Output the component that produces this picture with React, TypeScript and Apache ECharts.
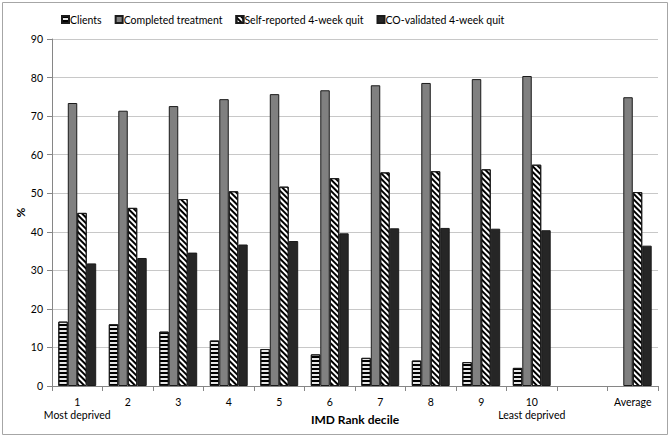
import React, { useEffect, useRef } from "react";
import * as echarts from "echarts";

const categories = ["1\nMost deprived", "2", "3", "4", "5", "6", "7", "8", "9", "10\nLeast deprived", "", "Average"];
const clients = [16.7, 16.0, 14.1, 11.8, 9.6, 8.2, 7.3, 6.6, 6.2, 4.7, null, null];
const completed = [73.4, 71.4, 72.6, 74.4, 75.7, 76.7, 78.0, 78.6, 79.6, 80.4, null, 74.9];
const selfReported = [44.9, 46.2, 48.5, 50.5, 51.7, 53.9, 55.4, 55.7, 56.2, 57.4, null, 50.3];
const coValidated = [31.8, 33.2, 34.6, 36.7, 37.6, 39.6, 40.9, 41.0, 40.8, 40.4, null, 36.4];
const yTicks = { min: 0, max: 90, interval: 10 };

const FONT = "Lato, 'Liberation Sans', sans-serif";

export default function App() {
  const ref = useRef<HTMLDivElement>(null);
  useEffect(() => {
    document.body.style.margin = "0";
    const chart = echarts.init(ref.current!, undefined, { renderer: "svg" });
    const border = { borderColor: "#1a1a1a", borderWidth: 1 };
    chart.setOption({
      animation: false,
      backgroundColor: "#ffffff",
      textStyle: { fontFamily: FONT },
      graphic: [
        {
          type: "rect",
          shape: { x: 2.5, y: 2.5, width: 665, height: 432 },
          style: { fill: "none", stroke: "#a6a6a6", lineWidth: 1 },
          silent: true,
        },
      ],
      legend: {
        top: 9,
        left: 56,
        itemWidth: 7,
        itemHeight: 7,
        itemGap: 13,
        icon: "rect",
        textStyle: { fontFamily: FONT, fontSize: 10.5, color: "#000", padding: [0, 0, 0, -4] },
        data: ["Clients", "Completed treatment", "Self-reported 4-week quit", "CO-validated 4-week quit"],
      },
      grid: { left: 52, right: 12, top: 39, bottom: 52 },
      xAxis: {
        type: "category",
        data: categories,
        name: "IMD Rank decile",
        nameLocation: "middle",
        nameGap: 27,
        nameMoveOverlap: false,
        nameTextStyle: { fontFamily: FONT, fontSize: 12, fontWeight: "bold", color: "#000" },
        axisLine: { lineStyle: { color: "#868686" } },
        axisTick: { show: true, length: 5, lineStyle: { color: "#868686" } },
        axisLabel: { interval: 0, fontFamily: FONT, fontSize: 10.5, color: "#000", margin: 10, lineHeight: 12.5 },
      },
      yAxis: {
        type: "value",
        min: yTicks.min,
        max: yTicks.max,
        interval: yTicks.interval,
        name: "%",
        nameLocation: "middle",
        nameGap: 26,
        nameMoveOverlap: false,
        nameRotate: 90,
        nameTextStyle: { fontFamily: FONT, fontSize: 12, fontWeight: "bold", color: "#000" },
        axisLine: { show: true, lineStyle: { color: "#868686" } },
        axisTick: { show: true, length: 5, lineStyle: { color: "#868686" } },
        axisLabel: { fontFamily: FONT, fontSize: 10.5, color: "#000", margin: 9 },
        splitLine: { lineStyle: { color: "#c8c8c8" } },
      },
      series: [
        {
          name: "Clients",
          type: "bar",
          data: clients,
          barGap: "0%",
          barCategoryGap: "25%",
          itemStyle: {
            color: "#e6e6e6",
            ...border,
            decal: { symbol: "rect", color: "#000000", dashArrayX: [1, 0], dashArrayY: [1.6, 2], symbolSize: 1, rotation: 0 },
          },
        },
        {
          name: "Completed treatment",
          type: "bar",
          data: completed,
          barGap: "0%",
          barCategoryGap: "25%",
          itemStyle: { color: "#808080", ...border },
        },
        {
          name: "Self-reported 4-week quit",
          type: "bar",
          data: selfReported,
          barGap: "0%",
          barCategoryGap: "25%",
          itemStyle: {
            color: "#ffffff",
            ...border,
            decal: { symbol: "rect", color: "#000000", dashArrayX: [1, 0], dashArrayY: [1.6, 2], symbolSize: 1, rotation: Math.PI / 4 },
          },
        },
        {
          name: "CO-validated 4-week quit",
          type: "bar",
          data: coValidated,
          barGap: "0%",
          barCategoryGap: "25%",
          itemStyle: { color: "#262626", ...border },
        },
      ],
    });
    return () => chart.dispose();
  }, []);
  return <div ref={ref} style={{ width: 670, height: 438 }} />;
}
